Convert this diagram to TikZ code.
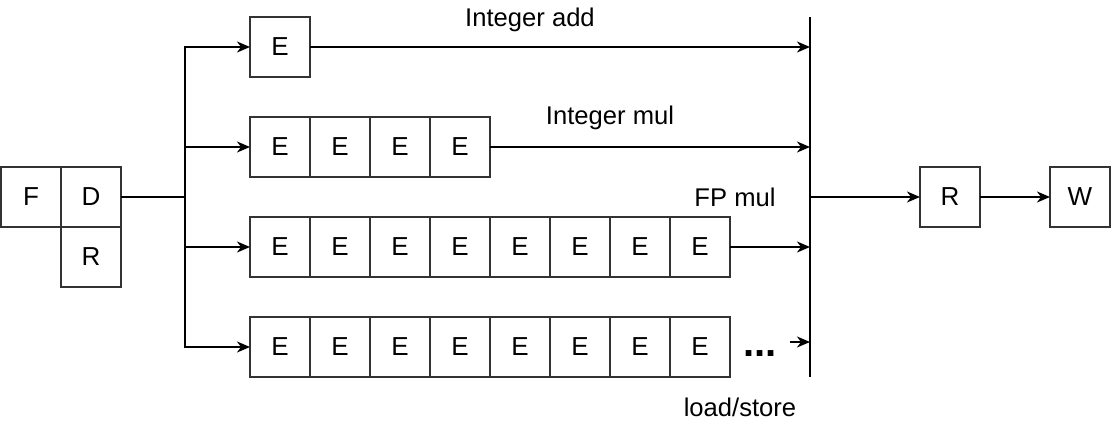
\documentclass[tikz,border=0pt]{standalone}
\usepackage{fontspec}
\setmainfont{Liberation Sans}
\usetikzlibrary{arrows.meta,positioning}

\begin{document}
\begin{tikzpicture}[x=0.5pt,y=-0.5pt,>={Stealth[length=6.5pt,width=5.5pt,inset=2pt]},line width=1pt,
 stage/.style={draw=black!80,minimum size=30pt,inner sep=0pt,outer sep=0pt,font=\fontsize{13}{14}\selectfont},
 lbl/.style={font=\fontsize{12.8}{14}\selectfont}]
\useasboundingbox (0,0) rectangle (1113,429);
%front end
  \node[stage] (F) at (31,197) {F};
  \node[stage,right=0pt of F] (D) {D};
  \node[stage,below=0pt of D] (Rd) {R};
  \coordinate (split) at (185,197);
  \draw[line width=1.4pt] (D) -- (split);
%integer add
  \node[stage] (a1) at (280,47) {E};
%integer mul
  \foreach \i in {1,...,4}
    \node[stage] (m\i) at (220+60*\i,147) {E};
%fp mul
  \foreach \i in {1,...,8}
    \node[stage] (p\i) at (220+60*\i,247) {E};
%load/store
  \foreach \i in {1,...,8}
    \node[stage] (s\i) at (220+60*\i,347) {E};
  \node[font=\fontsize{20}{20}\bfseries,inner sep=0pt] (dots) at (760,354) {...};
%fan out
  \draw[->] (split) |- (a1);
  \draw[->] (split) |- (m1);
  \draw[->] (split) |- (p1);
  \draw[->] (split) |- (s1);
%writeback bar
  \coordinate (bt) at (810,17);
  \coordinate (bb) at (810,377);
  \coordinate (bm) at (810,197);
  \coordinate (ld) at (790,342);
  \draw (bt) -- (bb);
  \draw[->] (a1) -- (a1 -| bt);
  \draw[->] (m4) -- (m4 -| bt);
  \draw[->] (p8) -- (p8 -| bt);
  \draw[->] (ld) -- (ld -| bt);
%labels
  \node[lbl] at (530,20) {Integer add};
  \node[lbl] at (610,118) {Integer mul};
  \node[lbl] at (735,197) {FP mul};
  \node[lbl] at (740,407) {load/store};
%back end
  \node[stage] (R) at (950,197) {R};
  \node[stage] (W) at (1080,197) {W};
  \draw[->] (bm) -- (R);
  \draw[->] (R) -- (W);
\end{tikzpicture}
\end{document}
